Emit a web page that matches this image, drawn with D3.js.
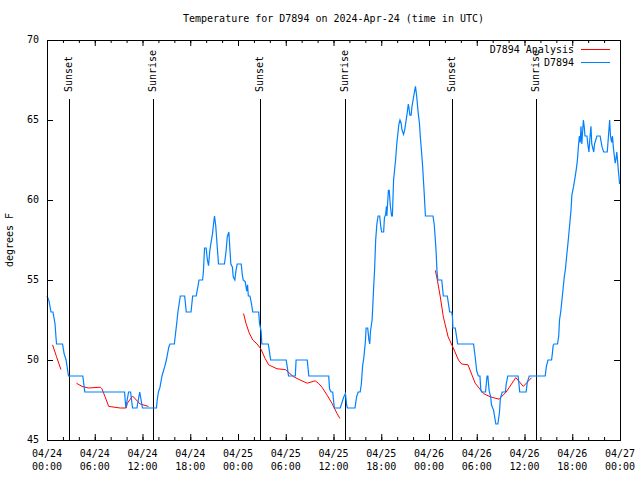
<!DOCTYPE html>
<html>
<head>
<meta charset="utf-8">
<script src="https://cdn.jsdelivr.net/npm/d3@7"></script>
<style>
  body { margin: 0; background: #fff; }
  svg text { font-family: "DejaVu Sans Mono", monospace; font-size: 10px; fill: #000; }
</style>
</head>
<body>
<svg width="640" height="480"></svg>
<script>
// hours since 2024-04-24 00:00 UTC
const startTime = Date.UTC(2024, 3, 24, 0, 0);
const spanHours = 72;
const tempTicks = [45, 50, 55, 60, 65, 70];

const sunEvents = [
  ["Sunset", 2.8], ["Sunrise", 13.38],
  ["Sunset", 26.8], ["Sunrise", 37.48],
  ["Sunset", 50.9], ["Sunrise", 61.5],
];

// station obs [hour, degF]
const obsPoints = [
  [0.0,54],[0.25,53.7],[0.5,53],[0.75,53],[1.0,52.3],[1.15,51.3],[1.2,51],[1.95,51],[2.15,50.4],[2.4,50],
  [2.55,49.5],[2.7,49],[4.5,49],[4.75,48],[9.75,48],[9.9,47],[10.25,48],[10.5,48],[10.75,47],[11.3,47],
  [11.65,48],[12.0,47],[13.75,47],[13.85,47.5],[14.0,48],[14.2,48.3],[14.45,49],[14.8,49.6],[15.0,50],[15.3,50.8],
  [15.45,51],[16.0,51],[16.3,52.3],[16.45,53],[16.75,54],[17.3,54],[17.5,53],[18.1,53],[18.3,54],[18.75,54],
  [19.0,54.7],[19.1,55],[19.55,55],[19.65,55.5],[19.8,57],[20.0,57],[20.15,56.25],[20.3,55.9],[20.45,56.8],[20.6,57.3],
  [20.8,57.9],[20.95,58.6],[21.05,59],[21.2,58.4],[21.3,57.7],[21.55,56],[22.3,56],[22.5,56.8],[22.65,57.7],[22.85,58],
  [23.0,56.8],[23.1,56],[23.3,55.8],[23.4,55.2],[23.6,55],[23.75,55.6],[23.9,56],[24.4,56],[24.55,55.3],[24.65,55],
  [24.9,54.9],[25.1,54.3],[25.2,54.7],[25.3,54],[25.5,54],[25.7,53.5],[25.85,53],[26.6,53],[26.7,52.3],[26.9,51.8],
  [27.0,51],[27.8,51],[27.9,50.7],[28.1,50],[30.05,50],[30.15,49.7],[30.35,49],[31.2,49],[31.3,50],[32.7,50],
  [32.9,49],[35.4,49],[35.5,48.2],[35.7,48],[35.9,48],[36.1,47],[36.85,47],[37.3,47.7],[37.5,47.9],[37.65,47.2],
  [37.75,47],[38.7,47],[38.9,47.7],[39.1,48],[39.35,48],[39.5,48.5],[39.65,49.6],[39.8,50.1],[40.0,51.1],[40.1,52],
  [40.3,52],[40.45,51.25],[40.55,51],[40.65,51.8],[40.85,52.5],[40.95,53.5],[41.05,54.6],[41.15,55.5],[41.3,57.5],[41.45,58.5],
  [41.6,59],[41.8,59],[41.95,58.3],[42.05,58],[42.3,58],[42.4,58.9],[42.55,59.1],[42.65,59.6],[42.7,59],[42.9,60.6],
  [43.0,60.6],[43.15,59.6],[43.3,59],[43.4,59],[43.55,61.25],[43.8,62.5],[43.95,63.5],[44.1,64.2],[44.2,64.7],[44.35,65],
  [44.5,64.8],[44.6,64.4],[44.8,64.1],[44.95,64.4],[45.1,64.9],[45.25,65.4],[45.4,66],[45.5,65.7],[45.6,65.3],[45.75,65.3],
  [45.85,65.8],[46.0,66.25],[46.15,66.7],[46.3,67.1],[46.45,66.5],[46.65,65.4],[46.8,64.8],[46.9,64],[47.05,63.1],[47.2,62.1],
  [47.4,60.4],[47.55,59],[48.5,59],[48.65,58.5],[48.8,57.5],[48.9,56.7],[49.0,55.6],[49.1,55],[49.6,55],[49.8,54],
  [50.3,54],[50.6,53],[50.85,53],[50.95,52.7],[51.0,52],[51.3,52],[51.45,51.5],[51.6,51],[53.6,51],[53.8,50.2],
  [54.0,49.3],[54.2,49],[54.4,49],[54.5,48.2],[54.6,48],[55.1,48],[55.3,49],[55.4,49],[55.55,48.1],[55.75,47.7],
  [55.85,47.2],[56.0,47],[56.1,46.9],[56.4,46],[56.65,46],[56.85,46.7],[56.97,47.6],[57.2,48],[57.6,48],[57.7,48.5],
  [57.9,49],[59.2,49],[59.4,48],[60.2,48],[60.35,48.6],[60.6,49],[62.6,49],[62.75,49.6],[62.95,50],[63.4,50],
  [63.5,50.4],[63.6,50.9],[63.7,51],[64.15,51],[64.3,51.5],[64.4,52.5],[64.55,53],[64.8,54.2],[65.0,55.2],[65.15,55.7],
  [65.3,56.5],[65.5,57.5],[65.65,58.3],[65.85,59.4],[65.95,60.3],[66.15,60.8],[66.35,61.4],[66.5,61.9],[66.65,62.5],[66.8,63.5],
  [66.9,64],[67.0,63.6],[67.1,64.6],[67.2,63.5],[67.4,65],[67.5,64.6],[67.6,64],[67.85,64],[67.95,63.5],[68.1,63],
  [68.2,63.75],[68.35,64.6],[68.45,63.5],[68.7,63],[68.8,63.5],[69.1,64],[69.5,64],[69.75,63.3],[69.95,63],[70.4,63],
  [70.55,64],[70.7,65],[70.8,64],[70.95,63.6],[71.05,64],[71.2,63.1],[71.4,62.3],[71.5,62.6],[71.6,63],[71.75,62.1],
  [71.95,61],
];

// analysis [hour, degF], null = gap
const analysisPoints = [
  [0.7,50.95],[1.2,50.2],[1.75,49.4],
  null,
  [3.7,48.55],[4.4,48.35],[5.2,48.25],[6.7,48.3],[6.9,48.2],[7.3,47.7],[7.75,47.1],[9.2,47.0],[9.95,47.0],[10.1,47.3],
  [10.75,47.75],[11.7,47.25],[12.75,47.1],
  null,
  [24.7,52.9],[25.0,52.3],[25.4,51.7],[25.85,51.25],[26.4,51.0],[26.9,50.67],[27.4,50.1],[27.85,49.7],[28.9,49.45],[29.95,49.4],
  [31.0,48.95],[31.8,48.75],[32.7,48.55],[33.7,48.7],[34.1,48.55],[34.55,48.3],[35.2,47.8],[35.8,47.3],[36.45,46.65],[36.8,46.35],
  null,
  [48.8,55.6],[49.05,55],[49.4,54],[49.8,52.7],[50.4,51.45],[51.05,50.75],[51.7,50],[52.1,49.75],[52.9,49.7],[53.8,48.55],
  [54.85,47.9],[55.7,47.7],[56.8,47.55],[57.7,48],[58.9,48.9],[59.85,48.35],[60.9,48.9],
];

const margin = { left: 47, top: 40, right: 20, bottom: 40 };
const width = 640;
const height = 480;

const toDate = (h) => new Date(startTime + h * 3600e3);

const x = d3
  .scaleUtc()
  .domain([toDate(0), toDate(spanHours)])
  .range([margin.left, width - margin.right]);

const y = d3
  .scaleLinear()
  .domain([45, 70])
  .range([height - margin.bottom, margin.top]);

const svg = d3.select("svg");

svg
  .append("text")
  .attr("x", (margin.left + width - margin.right) / 2)
  .attr("y", 19)
  .attr("text-anchor", "middle")
  .attr("dominant-baseline", "middle")
  .text("Temperature for D7894 on 2024-Apr-24 (time in UTC)");

svg
  .append("text")
  .attr("transform", "translate(10,240) rotate(-90)")
  .attr("text-anchor", "middle")
  .attr("dominant-baseline", "middle")
  .text("degrees F");

const majorTicks = d3.utcHour.every(6).range(toDate(0), toDate(spanHours + 1));
const minorTicks = d3.utcHour.every(2).range(toDate(0), toDate(spanHours + 1));

// ticks point inward, gnuplot style
function tickAxis(axis, ticks, size, tx, ty) {
  const g = svg
    .append("g")
    .attr("transform", `translate(${tx},${ty})`)
    .call(axis.tickValues(ticks).tickSize(-size).tickFormat(""));
  g.select(".domain").remove();
  g.selectAll(".tick line").attr("stroke", "#000");
  return g;
}

tickAxis(d3.axisBottom(x), minorTicks, 3, 0, y(45));
tickAxis(d3.axisBottom(x), majorTicks, 6, 0, y(45));
tickAxis(d3.axisTop(x), minorTicks, 3, 0, y(70));
tickAxis(d3.axisTop(x), majorTicks, 6, 0, y(70));
tickAxis(d3.axisLeft(y), tempTicks, 6, x.range()[0], 0);
tickAxis(d3.axisRight(y), tempTicks, 6, x.range()[1], 0);

// x labels, two lines
const xLabels = svg
  .append("g")
  .selectAll("text")
  .data(majorTicks)
  .join("text")
  .attr("text-anchor", "middle")
  .attr("dominant-baseline", "middle");
xLabels
  .append("tspan")
  .attr("x", (d) => x(d))
  .attr("y", 454)
  .text(d3.utcFormat("%m/%d"));
xLabels
  .append("tspan")
  .attr("x", (d) => x(d))
  .attr("y", 467)
  .text(d3.utcFormat("%H:%M"));

svg
  .append("g")
  .selectAll("text")
  .data(tempTicks)
  .join("text")
  .attr("x", margin.left - 8)
  .attr("y", (d) => y(d))
  .attr("text-anchor", "end")
  .attr("dominant-baseline", "middle")
  .text((d) => d);

// sunrise / sunset markers
const sun = svg.append("g").selectAll("g").data(sunEvents).join("g");
sun
  .append("line")
  .attr("x1", (d) => Math.round(x(toDate(d[1]))) + 0.5)
  .attr("x2", (d) => Math.round(x(toDate(d[1]))) + 0.5)
  .attr("y1", 99)
  .attr("y2", y(45))
  .attr("stroke", "#000");
sun
  .append("text")
  .attr("transform", (d) => `translate(${x(toDate(d[1]))},92) rotate(-90)`)
  .attr("dominant-baseline", "middle")
  .text((d) => d[0]);

const line = d3
  .line()
  .defined((d) => d !== null)
  .x((d) => x(toDate(d[0])))
  .y((d) => y(d[1]));

svg
  .append("path")
  .datum(analysisPoints)
  .attr("fill", "none")
  .attr("stroke", "#ff0000")
  .attr("stroke-width", 1)
  .attr("d", line);

svg
  .append("path")
  .datum(obsPoints)
  .attr("fill", "none")
  .attr("stroke", "#0080ff")
  .attr("stroke-width", 1.2)
  .attr("d", line);

// legend
const legendItems = [
  ["D7894 Analysis", "#ff0000"],
  ["D7894", "#0080ff"],
];
const legend = svg.append("g").selectAll("g").data(legendItems).join("g");
legend
  .append("text")
  .attr("x", 574)
  .attr("y", (d, i) => 50 + i * 13)
  .attr("text-anchor", "end")
  .attr("dominant-baseline", "middle")
  .text((d) => d[0]);
legend
  .append("line")
  .attr("x1", 581)
  .attr("x2", 610)
  .attr("y1", (d, i) => 49.5 + i * 13)
  .attr("y2", (d, i) => 49.5 + i * 13)
  .attr("stroke", (d) => d[1]);

svg
  .append("rect")
  .attr("x", x.range()[0] + 0.5)
  .attr("y", y(70) + 0.5)
  .attr("width", x.range()[1] - x.range()[0])
  .attr("height", y(45) - y(70))
  .attr("fill", "none")
  .attr("stroke", "#000");
</script>
</body>
</html>
